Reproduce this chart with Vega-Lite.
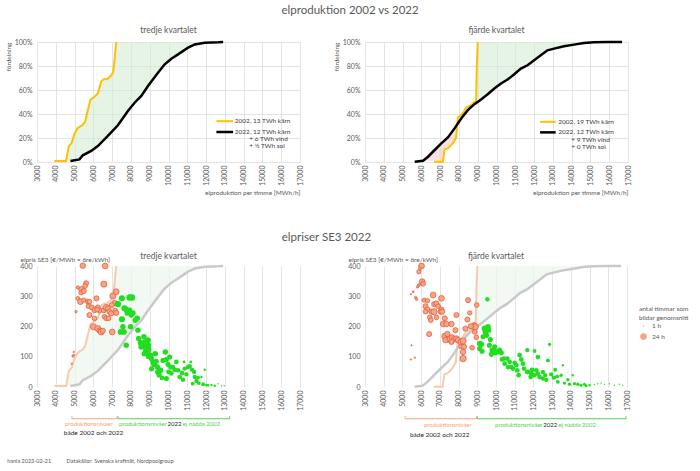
{
"$schema": "https://vega.github.io/schema/vega-lite/v6.json",
"background": "white",
"padding": {"left": 5, "top": 5, "right": 5, "bottom": 3},
"config": {
 "font": "Lato",
 "view": {"stroke": null},
 "axis": {"domain": false, "ticks": false, "labelOverlap": false, "gridColor": "#D9D9D9", "gridWidth": 0.7, "labelColor": "#595959", "labelFontSize": 7, "titleColor": "#595959", "titleFontSize": 6.5, "titleFontWeight": "normal"},
 "title": {"color": "#595959", "fontWeight": "normal", "anchor": "middle"}
},
"title": {"text": "hanla 2023-02-21\u00a0\u00a0\u00a0\u00a0\u00a0\u00a0\u00a0\u00a0\u00a0\u00a0\u00a0Datakällor: Svenska kraftnät, Nordpoolgroup", "orient": "bottom", "anchor": "start", "fontSize": 5.5, "offset": 20, "dx": 2},
"datasets": {
 "curves": [
  {"q":"Q3","yr":"2002","x":3925,"p":0.8},{"q":"Q3","yr":"2002","x":4548,"p":0.8},{"q":"Q3","yr":"2002","x":4690,"p":13},{"q":"Q3","yr":"2002","x":4851,"p":16},{"q":"Q3","yr":"2002","x":4993,"p":23.6},{"q":"Q3","yr":"2002","x":5171,"p":28.3},{"q":"Q3","yr":"2002","x":5438,"p":31},{"q":"Q3","yr":"2002","x":5562,"p":33.6},{"q":"Q3","yr":"2002","x":5705,"p":43},{"q":"Q3","yr":"2002","x":5847,"p":52},{"q":"Q3","yr":"2002","x":6060,"p":54.4},{"q":"Q3","yr":"2002","x":6238,"p":57},{"q":"Q3","yr":"2002","x":6416,"p":67},{"q":"Q3","yr":"2002","x":6559,"p":69},{"q":"Q3","yr":"2002","x":6737,"p":69},{"q":"Q3","yr":"2002","x":6950,"p":72},{"q":"Q3","yr":"2002","x":7057,"p":75},{"q":"Q3","yr":"2002","x":7128,"p":85},{"q":"Q3","yr":"2002","x":7217,"p":100},
  {"q":"Q3","yr":"2022","x":4779,"p":0.8},{"q":"Q3","yr":"2022","x":5260,"p":2.2},{"q":"Q3","yr":"2022","x":5438,"p":5.6},{"q":"Q3","yr":"2022","x":5883,"p":9.2},{"q":"Q3","yr":"2022","x":6238,"p":13.3},{"q":"Q3","yr":"2022","x":6772,"p":21.7},{"q":"Q3","yr":"2022","x":7306,"p":30.6},{"q":"Q3","yr":"2022","x":7840,"p":42.5},{"q":"Q3","yr":"2022","x":8196,"p":49.4},{"q":"Q3","yr":"2022","x":8552,"p":55},{"q":"Q3","yr":"2022","x":8907,"p":63.3},{"q":"Q3","yr":"2022","x":9441,"p":74.4},{"q":"Q3","yr":"2022","x":9797,"p":81.4},{"q":"Q3","yr":"2022","x":10153,"p":86.1},{"q":"Q3","yr":"2022","x":10509,"p":89.7},{"q":"Q3","yr":"2022","x":11043,"p":95.3},{"q":"Q3","yr":"2022","x":11399,"p":98},{"q":"Q3","yr":"2022","x":11932,"p":99.4},{"q":"Q3","yr":"2022","x":12644,"p":99.7},{"q":"Q3","yr":"2022","x":12910,"p":100},
  {"q":"Q4","yr":"2002","x":6672,"p":0.3},{"q":"Q4","yr":"2002","x":7149,"p":0.3},{"q":"Q4","yr":"2002","x":7237,"p":10.5},{"q":"Q4","yr":"2002","x":7414,"p":11.4},{"q":"Q4","yr":"2002","x":7590,"p":14},{"q":"Q4","yr":"2002","x":7731,"p":17},{"q":"Q4","yr":"2002","x":7855,"p":20.5},{"q":"Q4","yr":"2002","x":7943,"p":37.5},{"q":"Q4","yr":"2002","x":8120,"p":39},{"q":"Q4","yr":"2002","x":8261,"p":42},{"q":"Q4","yr":"2002","x":8384,"p":45.4},{"q":"Q4","yr":"2002","x":8650,"p":47.4},{"q":"Q4","yr":"2002","x":8826,"p":50},{"q":"Q4","yr":"2002","x":8914,"p":51},{"q":"Q4","yr":"2002","x":8950,"p":79},{"q":"Q4","yr":"2002","x":9003,"p":100},
  {"q":"Q4","yr":"2022","x":5648,"p":0.3},{"q":"Q4","yr":"2022","x":6090,"p":1.1},{"q":"Q4","yr":"2022","x":6354,"p":4.4},{"q":"Q4","yr":"2022","x":6708,"p":10},{"q":"Q4","yr":"2022","x":7061,"p":15.5},{"q":"Q4","yr":"2022","x":7414,"p":20.5},{"q":"Q4","yr":"2022","x":7767,"p":28},{"q":"Q4","yr":"2022","x":8120,"p":36.3},{"q":"Q4","yr":"2022","x":8473,"p":43.2},{"q":"Q4","yr":"2022","x":8826,"p":48.2},{"q":"Q4","yr":"2022","x":9179,"p":52.1},{"q":"Q4","yr":"2022","x":9532,"p":56.5},{"q":"Q4","yr":"2022","x":9886,"p":61.2},{"q":"Q4","yr":"2022","x":10239,"p":65.4},{"q":"Q4","yr":"2022","x":10592,"p":68.7},{"q":"Q4","yr":"2022","x":10945,"p":73.1},{"q":"Q4","yr":"2022","x":11298,"p":77.8},{"q":"Q4","yr":"2022","x":11651,"p":80.6},{"q":"Q4","yr":"2022","x":12004,"p":84.8},{"q":"Q4","yr":"2022","x":12357,"p":88.9},{"q":"Q4","yr":"2022","x":12711,"p":93.1},{"q":"Q4","yr":"2022","x":13064,"p":94.5},{"q":"Q4","yr":"2022","x":13594,"p":96.4},{"q":"Q4","yr":"2022","x":14123,"p":97.8},{"q":"Q4","yr":"2022","x":14653,"p":99.2},{"q":"Q4","yr":"2022","x":15183,"p":99.7},{"q":"Q4","yr":"2022","x":15890,"p":100},{"q":"Q4","yr":"2022","x":16684,"p":100}
 ],
 "bands": [
  {"q":"Q3","k":"g","p":0.8,"lo":4560,"hi":4790},{"q":"Q3","k":"g","p":5,"lo":4610,"hi":5420},{"q":"Q3","k":"g","p":10,"lo":4650,"hi":5960},{"q":"Q3","k":"g","p":15,"lo":4810,"hi":6340},{"q":"Q3","k":"g","p":20,"lo":4900,"hi":6640},{"q":"Q3","k":"g","p":25,"lo":5040,"hi":6880},{"q":"Q3","k":"g","p":30,"lo":5300,"hi":7270},{"q":"Q3","k":"g","p":35,"lo":5580,"hi":7480},{"q":"Q3","k":"g","p":40,"lo":5660,"hi":7730},{"q":"Q3","k":"g","p":45,"lo":5740,"hi":7940},{"q":"Q3","k":"g","p":50,"lo":5810,"hi":8230},{"q":"Q3","k":"g","p":55,"lo":6090,"hi":8552},{"q":"Q3","k":"g","p":60,"lo":6300,"hi":8780},{"q":"Q3","k":"g","p":65,"lo":6340,"hi":9000},{"q":"Q3","k":"g","p":70,"lo":6860,"hi":9230},{"q":"Q3","k":"g","p":75,"lo":7057,"hi":9480},{"q":"Q3","k":"g","p":80,"lo":7100,"hi":9730},{"q":"Q3","k":"g","p":85,"lo":7128,"hi":10080},{"q":"Q3","k":"g","p":90,"lo":7150,"hi":10540},{"q":"Q3","k":"g","p":95,"lo":7190,"hi":11000},{"q":"Q3","k":"g","p":99,"lo":7211,"hi":11800},{"q":"Q3","k":"g","p":100,"lo":7217,"hi":12910},
  {"q":"Q4","k":"r","p":1,"lo":6090,"hi":7160},{"q":"Q4","k":"r","p":5,"lo":6400,"hi":7190},{"q":"Q4","k":"r","p":10,"lo":6700,"hi":7230},{"q":"Q4","k":"r","p":15,"lo":7050,"hi":7630},{"q":"Q4","k":"r","p":20,"lo":7380,"hi":7840},{"q":"Q4","k":"r","p":25,"lo":7630,"hi":7870},{"q":"Q4","k":"r","p":30,"lo":7810,"hi":7900},{"q":"Q4","k":"r","p":31,"lo":7880,"hi":7905},
  {"q":"Q4","k":"g","p":38,"lo":7950,"hi":8210},{"q":"Q4","k":"g","p":42,"lo":8261,"hi":8430},{"q":"Q4","k":"g","p":45,"lo":8384,"hi":8570},{"q":"Q4","k":"g","p":48,"lo":8700,"hi":8826},{"q":"Q4","k":"g","p":50,"lo":8826,"hi":8980},{"q":"Q4","k":"g","p":52,"lo":8915,"hi":9170},{"q":"Q4","k":"g","p":55,"lo":8920,"hi":9410},{"q":"Q4","k":"g","p":60,"lo":8925,"hi":9800},{"q":"Q4","k":"g","p":65,"lo":8930,"hi":10170},{"q":"Q4","k":"g","p":70,"lo":8940,"hi":10720},{"q":"Q4","k":"g","p":75,"lo":8955,"hi":11090},{"q":"Q4","k":"g","p":80,"lo":8965,"hi":11610},{"q":"Q4","k":"g","p":85,"lo":8975,"hi":12010},{"q":"Q4","k":"g","p":90,"lo":8985,"hi":12450},{"q":"Q4","k":"g","p":95,"lo":8995,"hi":13080},{"q":"Q4","k":"g","p":98,"lo":9000,"hi":14130},{"q":"Q4","k":"g","p":100,"lo":9003,"hi":15890}
 ],
 "leg": [
  {"q":"Q3","yr":"2002","x":12550,"x2":13440,"p":34},{"q":"Q3","yr":"2022","x":12550,"x2":13440,"p":25},
  {"q":"Q4","yr":"2002","x":12320,"x2":13150,"p":33.5},{"q":"Q4","yr":"2022","x":12320,"x2":13150,"p":24.7}
 ],
 "legtxt": [
  {"q":"Q3","x":13530,"p":34,"t":"2002,  13 TWh kärn"},{"q":"Q3","x":13530,"p":25,"t":"2022,  12 TWh kärn"},{"q":"Q3","x":14300,"p":19,"t":"+   6 TWh vind"},{"q":"Q3","x":14300,"p":13,"t":"+   ½ TWh sol"},
  {"q":"Q4","x":13290,"p":33.5,"t":"2002, 19 TWh kärn"},{"q":"Q4","x":13290,"p":24.7,"t":"2022, 12  TWh kärn"},{"q":"Q4","x":13980,"p":18.3,"t":"+   9  TWh vind"},{"q":"Q4","x":13980,"p":12.2,"t":"+   0 TWh sol"}
 ],
 "brk": [
  {"q":"Q3","k":"both","x":4860,"x2":7270},{"q":"Q3","k":"new","x":7310,"x2":13250},
  {"q":"Q4","k":"both","x":5140,"x2":8960},{"q":"Q4","k":"new","x":9000,"x2":16950}
 ],
 "btxt": [
  {"q":"Q3","k":"both","line":1,"x":4480,"t":"produktionsnivåer"},{"q":"Q3","k":"plain","line":2,"x":4430,"t":"både 2002 och 2022"},{"q":"Q3","k":"new","line":1,"x":7370,"t":"produktionsnivåer"},{"q":"Q3","k":"plain","line":1,"x":9950,"t":"2022"},{"q":"Q3","k":"new","line":1,"x":10750,"t":"ej nådda 2002"},
  {"q":"Q4","k":"both","line":1,"x":6150,"t":"produktionsnivåer"},{"q":"Q4","k":"plain","line":2,"x":5400,"t":"både 2002 och 2022"},{"q":"Q4","k":"new","line":1,"x":9948,"t":"produktionsnivåer"},{"q":"Q4","k":"plain","line":1,"x":12530,"t":"2022"},{"q":"Q4","k":"new","line":1,"x":13330,"t":"ej nådda 2002"}
 ],
 "pts": [
  {"q":"Q3","x":4850,"v":77,"h":1},{"q":"Q3","x":4904,"v":102,"h":2},{"q":"Q3","x":4957,"v":105,"h":2},{"q":"Q3","x":4957,"v":116,"h":1},{"q":"Q3","x":5080,"v":249,"h":3},{"q":"Q3","x":5437,"v":401,"h":16},{"q":"Q3","x":5170,"v":329,"h":6},{"q":"Q3","x":5384,"v":323,"h":18},{"q":"Q3","x":5348,"v":312,"h":12},{"q":"Q3","x":5490,"v":317,"h":14},{"q":"Q3","x":5615,"v":343,"h":14},{"q":"Q3","x":5562,"v":334,"h":12},{"q":"Q3","x":5170,"v":293,"h":8},{"q":"Q3","x":5313,"v":282,"h":18},{"q":"Q3","x":5490,"v":287,"h":10},{"q":"Q3","x":5704,"v":282,"h":12},{"q":"Q3","x":5793,"v":282,"h":12},{"q":"Q3","x":5740,"v":267,"h":12},{"q":"Q3","x":5918,"v":263,"h":14},{"q":"Q3","x":6060,"v":254,"h":14},{"q":"Q3","x":6167,"v":293,"h":14},{"q":"Q3","x":6238,"v":263,"h":14},{"q":"Q3","x":6327,"v":252,"h":12},{"q":"Q3","x":6202,"v":256,"h":12},{"q":"Q3","x":6060,"v":227,"h":12},{"q":"Q3","x":5793,"v":238,"h":14},{"q":"Q3","x":6006,"v":199,"h":20},{"q":"Q3","x":6238,"v":193,"h":20},{"q":"Q3","x":6345,"v":186,"h":16},{"q":"Q3","x":6416,"v":182,"h":20},{"q":"Q3","x":6505,"v":186,"h":14},{"q":"Q3","x":6558,"v":340,"h":20},{"q":"Q3","x":6630,"v":400,"h":18},{"q":"Q3","x":6558,"v":254,"h":14},{"q":"Q3","x":6683,"v":263,"h":20},{"q":"Q3","x":6772,"v":260,"h":14},{"q":"Q3","x":6594,"v":232,"h":12},{"q":"Q3","x":6683,"v":227,"h":12},{"q":"Q3","x":6808,"v":227,"h":12},{"q":"Q3","x":6861,"v":249,"h":14},{"q":"Q3","x":6950,"v":243,"h":14},{"q":"Q3","x":7003,"v":182,"h":18},{"q":"Q3","x":7039,"v":301,"h":20},{"q":"Q3","x":7128,"v":278,"h":14},{"q":"Q3","x":7217,"v":315,"h":18},{"q":"Q3","x":7164,"v":252,"h":14},{"q":"Q3","x":7217,"v":245,"h":14},{"q":"Q3","x":6985,"v":271,"h":14},
  {"q":"Q3","x":7306,"v":274,"h":22},{"q":"Q3","x":7520,"v":224,"h":20},{"q":"Q3","x":7520,"v":293,"h":20},{"q":"Q3","x":7750,"v":256,"h":16},{"q":"Q3","x":7662,"v":260,"h":22},{"q":"Q3","x":7804,"v":245,"h":16},{"q":"Q3","x":7573,"v":199,"h":16},{"q":"Q3","x":7448,"v":182,"h":18},{"q":"Q3","x":7626,"v":182,"h":18},{"q":"Q3","x":7750,"v":138,"h":16},{"q":"Q3","x":7928,"v":296,"h":22},{"q":"Q3","x":8053,"v":296,"h":22},{"q":"Q3","x":7982,"v":199,"h":16},{"q":"Q3","x":7928,"v":254,"h":16},{"q":"Q3","x":8017,"v":238,"h":16},{"q":"Q3","x":8106,"v":245,"h":16},{"q":"Q3","x":8337,"v":227,"h":16},{"q":"Q3","x":8373,"v":188,"h":16},{"q":"Q3","x":8230,"v":221,"h":16},{"q":"Q3","x":8409,"v":160,"h":16},{"q":"Q3","x":8516,"v":146,"h":18},{"q":"Q3","x":8587,"v":138,"h":20},{"q":"Q3","x":8551,"v":133,"h":18},{"q":"Q3","x":8694,"v":166,"h":16},{"q":"Q3","x":8729,"v":149,"h":16},{"q":"Q3","x":8818,"v":130,"h":18},{"q":"Q3","x":8907,"v":155,"h":18},{"q":"Q3","x":8943,"v":138,"h":16},{"q":"Q3","x":8872,"v":116,"h":20},{"q":"Q3","x":8943,"v":102,"h":18},{"q":"Q3","x":9049,"v":105,"h":16},{"q":"Q3","x":9085,"v":94,"h":16},{"q":"Q3","x":9174,"v":83,"h":16},{"q":"Q3","x":9298,"v":110,"h":16},{"q":"Q3","x":9227,"v":75,"h":18},{"q":"Q3","x":9405,"v":66,"h":16},{"q":"Q3","x":9440,"v":50,"h":18},{"q":"Q3","x":9583,"v":55,"h":16},{"q":"Q3","x":9707,"v":88,"h":14},{"q":"Q3","x":9832,"v":116,"h":16},{"q":"Q3","x":9885,"v":91,"h":14},{"q":"Q3","x":9974,"v":75,"h":14},{"q":"Q3","x":10063,"v":99,"h":14},{"q":"Q3","x":10117,"v":66,"h":14},{"q":"Q3","x":9885,"v":28,"h":14},{"q":"Q3","x":10241,"v":66,"h":12},{"q":"Q3","x":10330,"v":57,"h":12},{"q":"Q3","x":10419,"v":83,"h":12},{"q":"Q3","x":10508,"v":55,"h":12},{"q":"Q3","x":10597,"v":33,"h":12},{"q":"Q3","x":10721,"v":46,"h":12},{"q":"Q3","x":10828,"v":83,"h":4},{"q":"Q3","x":10863,"v":61,"h":10},{"q":"Q3","x":10952,"v":42,"h":10},{"q":"Q3","x":11041,"v":66,"h":10},{"q":"Q3","x":11130,"v":69,"h":10},{"q":"Q3","x":11183,"v":83,"h":4},{"q":"Q3","x":11255,"v":57,"h":10},{"q":"Q3","x":11361,"v":50,"h":10},{"q":"Q3","x":11397,"v":33,"h":10},{"q":"Q3","x":11486,"v":20,"h":10},{"q":"Q3","x":11610,"v":13,"h":8},{"q":"Q3","x":11753,"v":33,"h":3},{"q":"Q3","x":11842,"v":9,"h":8},{"q":"Q3","x":11930,"v":57,"h":3},{"q":"Q3","x":12019,"v":6,"h":4},{"q":"Q3","x":12108,"v":6,"h":4},{"q":"Q3","x":12286,"v":7,"h":3},{"q":"Q3","x":12464,"v":4,"h":3},{"q":"Q3","x":12642,"v":11,"h":1},{"q":"Q3","x":12820,"v":4,"h":1},{"q":"Q3","x":12962,"v":4,"h":1},{"q":"Q3","x":11575,"v":31,"h":8},{"q":"Q3","x":11290,"v":11,"h":8},{"q":"Q3","x":10774,"v":24,"h":10},{"q":"Q3","x":8780,"v":120,"h":16},{"q":"Q3","x":8860,"v":145,"h":16},{"q":"Q3","x":8700,"v":110,"h":14},{"q":"Q3","x":8960,"v":125,"h":14},{"q":"Q3","x":9100,"v":60,"h":14},{"q":"Q3","x":9350,"v":85,"h":14},{"q":"Q3","x":9500,"v":40,"h":14},{"q":"Q3","x":9650,"v":30,"h":12},{"q":"Q3","x":10000,"v":50,"h":12},{"q":"Q3","x":10150,"v":45,"h":12},
  {"q":"Q4","x":6020,"v":400,"h":18},{"q":"Q4","x":5878,"v":381,"h":10},{"q":"Q4","x":5931,"v":392,"h":4},{"q":"Q4","x":6056,"v":348,"h":18},{"q":"Q4","x":6109,"v":341,"h":12},{"q":"Q4","x":5878,"v":337,"h":4},{"q":"Q4","x":5807,"v":331,"h":3},{"q":"Q4","x":5576,"v":315,"h":2},{"q":"Q4","x":5700,"v":296,"h":3},{"q":"Q4","x":5754,"v":290,"h":3},{"q":"Q4","x":6162,"v":287,"h":10},{"q":"Q4","x":6340,"v":285,"h":10},{"q":"Q4","x":6642,"v":304,"h":18},{"q":"Q4","x":6695,"v":274,"h":14},{"q":"Q4","x":6820,"v":276,"h":14},{"q":"Q4","x":7086,"v":293,"h":18},{"q":"Q4","x":6909,"v":267,"h":12},{"q":"Q4","x":7086,"v":256,"h":14},{"q":"Q4","x":7050,"v":249,"h":14},{"q":"Q4","x":6233,"v":267,"h":14},{"q":"Q4","x":6340,"v":256,"h":14},{"q":"Q4","x":6233,"v":249,"h":12},{"q":"Q4","x":6553,"v":249,"h":14},{"q":"Q4","x":6695,"v":249,"h":20},{"q":"Q4","x":6464,"v":230,"h":12},{"q":"Q4","x":6517,"v":221,"h":12},{"q":"Q4","x":6820,"v":230,"h":12},{"q":"Q4","x":7121,"v":249,"h":14},{"q":"Q4","x":7263,"v":227,"h":14},{"q":"Q4","x":7174,"v":208,"h":16},{"q":"Q4","x":7352,"v":208,"h":16},{"q":"Q4","x":7619,"v":208,"h":16},{"q":"Q4","x":7885,"v":238,"h":14},{"q":"Q4","x":7832,"v":188,"h":14},{"q":"Q4","x":7263,"v":168,"h":20},{"q":"Q4","x":7405,"v":175,"h":16},{"q":"Q4","x":7441,"v":157,"h":16},{"q":"Q4","x":7299,"v":155,"h":16},{"q":"Q4","x":7530,"v":160,"h":16},{"q":"Q4","x":7654,"v":164,"h":16},{"q":"Q4","x":7761,"v":157,"h":16},{"q":"Q4","x":7885,"v":160,"h":16},{"q":"Q4","x":7619,"v":149,"h":14},{"q":"Q4","x":7974,"v":155,"h":16},{"q":"Q4","x":8152,"v":135,"h":16},{"q":"Q4","x":8117,"v":149,"h":16},{"q":"Q4","x":8241,"v":152,"h":20},{"q":"Q4","x":8294,"v":133,"h":14},{"q":"Q4","x":8241,"v":116,"h":16},{"q":"Q4","x":8241,"v":94,"h":22},{"q":"Q4","x":8366,"v":193,"h":14},{"q":"Q4","x":8472,"v":223,"h":14},{"q":"Q4","x":8508,"v":287,"h":14},{"q":"Q4","x":8597,"v":245,"h":10},{"q":"Q4","x":8774,"v":199,"h":14},{"q":"Q4","x":8827,"v":204,"h":16},{"q":"Q4","x":8898,"v":199,"h":20},{"q":"Q4","x":8863,"v":182,"h":12},{"q":"Q4","x":8650,"v":201,"h":14},{"q":"Q4","x":8721,"v":130,"h":12},{"q":"Q4","x":8969,"v":271,"h":12},{"q":"Q4","x":8951,"v":164,"h":12},{"q":"Q4","x":6428,"v":175,"h":14},{"q":"Q4","x":5452,"v":307,"h":1},{"q":"Q4","x":5487,"v":138,"h":1},{"q":"Q4","x":5452,"v":91,"h":1},{"q":"Q4","x":5665,"v":97,"h":1},
  {"q":"Q4","x":9538,"v":290,"h":10},{"q":"Q4","x":9396,"v":193,"h":20},{"q":"Q4","x":9432,"v":182,"h":16},{"q":"Q4","x":9574,"v":199,"h":16},{"q":"Q4","x":9609,"v":188,"h":16},{"q":"Q4","x":9485,"v":171,"h":16},{"q":"Q4","x":9307,"v":166,"h":14},{"q":"Q4","x":9698,"v":157,"h":14},{"q":"Q4","x":9129,"v":144,"h":16},{"q":"Q4","x":9218,"v":141,"h":16},{"q":"Q4","x":9645,"v":138,"h":14},{"q":"Q4","x":9929,"v":133,"h":14},{"q":"Q4","x":9787,"v":122,"h":14},{"q":"Q4","x":9893,"v":124,"h":14},{"q":"Q4","x":9964,"v":113,"h":14},{"q":"Q4","x":10071,"v":116,"h":14},{"q":"Q4","x":10195,"v":122,"h":14},{"q":"Q4","x":10284,"v":113,"h":14},{"q":"Q4","x":9751,"v":108,"h":14},{"q":"Q4","x":9254,"v":118,"h":14},{"q":"Q4","x":9129,"v":127,"h":14},{"q":"Q4","x":10426,"v":94,"h":12},{"q":"Q4","x":10604,"v":94,"h":12},{"q":"Q4","x":10728,"v":83,"h":12},{"q":"Q4","x":10817,"v":66,"h":12},{"q":"Q4","x":10906,"v":61,"h":12},{"q":"Q4","x":10995,"v":80,"h":12},{"q":"Q4","x":11084,"v":72,"h":12},{"q":"Q4","x":11262,"v":105,"h":12},{"q":"Q4","x":11351,"v":91,"h":12},{"q":"Q4","x":11440,"v":77,"h":12},{"q":"Q4","x":11671,"v":122,"h":10},{"q":"Q4","x":11493,"v":61,"h":12},{"q":"Q4","x":11706,"v":50,"h":12},{"q":"Q4","x":11884,"v":44,"h":12},{"q":"Q4","x":12062,"v":119,"h":8},{"q":"Q4","x":12240,"v":99,"h":12},{"q":"Q4","x":12151,"v":55,"h":12},{"q":"Q4","x":12240,"v":44,"h":12},{"q":"Q4","x":12329,"v":33,"h":12},{"q":"Q4","x":12506,"v":50,"h":10},{"q":"Q4","x":12631,"v":39,"h":10},{"q":"Q4","x":12772,"v":88,"h":8},{"q":"Q4","x":12861,"v":141,"h":6},{"q":"Q4","x":12950,"v":42,"h":10},{"q":"Q4","x":13091,"v":31,"h":10},{"q":"Q4","x":13162,"v":57,"h":8},{"q":"Q4","x":13304,"v":17,"h":8},{"q":"Q4","x":13482,"v":39,"h":6},{"q":"Q4","x":13571,"v":72,"h":3},{"q":"Q4","x":13660,"v":13,"h":6},{"q":"Q4","x":13837,"v":24,"h":6},{"q":"Q4","x":13925,"v":9,"h":6},{"q":"Q4","x":14103,"v":39,"h":3},{"q":"Q4","x":14192,"v":11,"h":6},{"q":"Q4","x":14370,"v":9,"h":6},{"q":"Q4","x":14547,"v":6,"h":5},{"q":"Q4","x":14725,"v":9,"h":5},{"q":"Q4","x":14814,"v":4,"h":5},{"q":"Q4","x":14991,"v":6,"h":3},{"q":"Q4","x":15258,"v":8,"h":1},{"q":"Q4","x":15436,"v":11,"h":1},{"q":"Q4","x":15613,"v":13,"h":1},{"q":"Q4","x":15791,"v":9,"h":1},{"q":"Q4","x":16058,"v":11,"h":1},{"q":"Q4","x":16324,"v":6,"h":1},{"q":"Q4","x":16590,"v":9,"h":1},{"q":"Q4","x":16768,"v":6,"h":1},{"q":"Q4","x":11671,"v":50,"h":12},{"q":"Q4","x":11928,"v":57,"h":12},{"q":"Q4","x":12028,"v":39,"h":12},{"q":"Q4","x":11849,"v":33,"h":12},{"q":"Q4","x":10639,"v":66,"h":12},{"q":"Q4","x":10462,"v":77,"h":12},{"q":"Q4","x":10320,"v":91,"h":12},{"q":"Q4","x":11137,"v":55,"h":12},{"q":"Q4","x":11209,"v":39,"h":12},{"q":"Q4","x":12506,"v":28,"h":10},{"q":"Q4","x":12684,"v":24,"h":10},{"q":"Q4","x":13268,"v":35,"h":8}
 ]
},
"spacing": 36,
"resolve": {"scale": {"size": "independent", "color": "independent"}, "legend": {"size": "independent", "color": "independent"}},
"vconcat": [
 {
  "title": {"text": "elproduktion 2002 vs 2022", "fontSize": 11.5, "offset": 9, "dx": 32},
  "bounds": "flush",
  "spacing": 65,
  "hconcat": [
   {
    "width": 263, "height": 120,
    "title": {"text": "tredje kvartalet", "fontSize": 8.5, "offset": 3, "frame": "group"},
    "layer": [
     {"data": {"name": "bands"}, "transform": [{"filter": "datum.q == 'Q3' && datum.k == 'g'"}],
      "mark": {"type": "area", "orient": "horizontal", "fill": "#D3ECD3", "opacity": 0.6},
      "encoding": {
       "y": {"field": "p", "type": "quantitative", "scale": {"domain": [0, 100]}, "axis": {"values": [0,20,40,60,80,100], "tickCount": 6, "labelExpr": "datum.value + '%'", "title": "fördelning", "titleAnchor": "end", "titlePadding": 3, "labelPadding": 5}},
       "x": {"field": "lo", "type": "quantitative", "scale": {"domain": [3000, 17000]}, "axis": {"values": [3000,4000,5000,6000,7000,8000,9000,10000,11000,12000,13000,14000,15000,16000,17000], "tickCount": 15, "format": "d", "labelAngle": 270, "labelPadding": 3, "title": "elproduktion per timme [MWh/h]", "titleAnchor": "end", "titlePadding": 4}},
       "x2": {"field": "hi"}
      }},
     {"data": {"name": "curves"}, "transform": [{"filter": "datum.q == 'Q3' && datum.yr == '2002'"}],
      "mark": {"type": "line", "color": "#FFC000", "strokeWidth": 2},
      "encoding": {"x": {"field": "x", "type": "quantitative"}, "y": {"field": "p", "type": "quantitative"}}},
     {"data": {"name": "curves"}, "transform": [{"filter": "datum.q == 'Q3' && datum.yr == '2022'"}],
      "mark": {"type": "line", "color": "#000000", "strokeWidth": 2.5},
      "encoding": {"x": {"field": "x", "type": "quantitative"}, "y": {"field": "p", "type": "quantitative"}}},
     {"data": {"name": "leg"}, "transform": [{"filter": "datum.q == 'Q3' && datum.yr == '2002'"}],
      "mark": {"type": "rule", "color": "#FFC000", "strokeWidth": 2},
      "encoding": {"x": {"field": "x", "type": "quantitative"}, "x2": {"field": "x2"}, "y": {"field": "p", "type": "quantitative"}}},
     {"data": {"name": "leg"}, "transform": [{"filter": "datum.q == 'Q3' && datum.yr == '2022'"}],
      "mark": {"type": "rule", "color": "#000000", "strokeWidth": 2.5},
      "encoding": {"x": {"field": "x", "type": "quantitative"}, "x2": {"field": "x2"}, "y": {"field": "p", "type": "quantitative"}}},
     {"data": {"name": "legtxt"}, "transform": [{"filter": "datum.q == 'Q3'"}],
      "mark": {"type": "text", "align": "left", "baseline": "middle", "fontSize": 6.5, "color": "#404040"},
      "encoding": {"x": {"field": "x", "type": "quantitative"}, "y": {"field": "p", "type": "quantitative"}, "text": {"field": "t"}}}
    ]
   },
   {
    "width": 263, "height": 120,
    "title": {"text": "fjärde kvartalet", "fontSize": 8.5, "offset": 3, "frame": "group"},
    "layer": [
     {"data": {"name": "bands"}, "transform": [{"filter": "datum.q == 'Q4' && datum.k == 'g'"}],
      "mark": {"type": "area", "orient": "horizontal", "fill": "#D3ECD3", "opacity": 0.6},
      "encoding": {
       "y": {"field": "p", "type": "quantitative", "scale": {"domain": [0, 100]}, "axis": {"values": [0,20,40,60,80,100], "tickCount": 6, "labelExpr": "datum.value + '%'", "title": "fördelning", "titleAnchor": "end", "titlePadding": 3, "labelPadding": 5}},
       "x": {"field": "lo", "type": "quantitative", "scale": {"domain": [3000, 17000]}, "axis": {"values": [3000,4000,5000,6000,7000,8000,9000,10000,11000,12000,13000,14000,15000,16000,17000], "tickCount": 15, "format": "d", "labelAngle": 270, "labelPadding": 3, "title": "elproduktion per timme [MWh/h]", "titleAnchor": "end", "titlePadding": 4}},
       "x2": {"field": "hi"}
      }},
     {"data": {"name": "bands"}, "transform": [{"filter": "datum.q == 'Q4' && datum.k == 'r'"}],
      "mark": {"type": "area", "orient": "horizontal", "fill": "#F2CFCF", "opacity": 0.6},
      "encoding": {"y": {"field": "p", "type": "quantitative"}, "x": {"field": "lo", "type": "quantitative"}, "x2": {"field": "hi"}}},
     {"data": {"name": "curves"}, "transform": [{"filter": "datum.q == 'Q4' && datum.yr == '2002'"}],
      "mark": {"type": "line", "color": "#FFC000", "strokeWidth": 2},
      "encoding": {"x": {"field": "x", "type": "quantitative"}, "y": {"field": "p", "type": "quantitative"}}},
     {"data": {"name": "curves"}, "transform": [{"filter": "datum.q == 'Q4' && datum.yr == '2022'"}],
      "mark": {"type": "line", "color": "#000000", "strokeWidth": 2.5},
      "encoding": {"x": {"field": "x", "type": "quantitative"}, "y": {"field": "p", "type": "quantitative"}}},
     {"data": {"name": "leg"}, "transform": [{"filter": "datum.q == 'Q4' && datum.yr == '2002'"}],
      "mark": {"type": "rule", "color": "#FFC000", "strokeWidth": 2},
      "encoding": {"x": {"field": "x", "type": "quantitative"}, "x2": {"field": "x2"}, "y": {"field": "p", "type": "quantitative"}}},
     {"data": {"name": "leg"}, "transform": [{"filter": "datum.q == 'Q4' && datum.yr == '2022'"}],
      "mark": {"type": "rule", "color": "#000000", "strokeWidth": 2.5},
      "encoding": {"x": {"field": "x", "type": "quantitative"}, "x2": {"field": "x2"}, "y": {"field": "p", "type": "quantitative"}}},
     {"data": {"name": "legtxt"}, "transform": [{"filter": "datum.q == 'Q4'"}],
      "mark": {"type": "text", "align": "left", "baseline": "middle", "fontSize": 6.5, "color": "#404040"},
      "encoding": {"x": {"field": "x", "type": "quantitative"}, "y": {"field": "p", "type": "quantitative"}, "text": {"field": "t"}}}
    ]
   }
  ]
 },
 {
  "title": {"text": "elpriser SE3 2022", "fontSize": 11.5, "offset": 8, "dx": -28},
  "bounds": "flush",
  "spacing": 65,
  "resolve": {"scale": {"size": "independent", "color": "independent"}, "legend": {"size": "independent", "color": "independent"}},
  "hconcat": [
   {
    "width": 263, "height": 121,
    "title": {"text": "tredje kvartalet", "fontSize": 8.5, "offset": -4, "frame": "group"},
    "resolve": {"scale": {"y": "independent"}},
    "layer": [
     {"layer": [
      {"data": {"name": "bands"}, "transform": [{"filter": "datum.q == 'Q3' && datum.k == 'g'"}],
       "mark": {"type": "area", "orient": "horizontal", "fill": "#EDF6ED", "opacity": 0.7},
       "encoding": {
        "y": {"field": "p", "type": "quantitative", "scale": {"domain": [0, 100]}, "axis": null},
        "x": {"field": "lo", "type": "quantitative", "scale": {"domain": [3000, 17000]}, "axis": {"values": [3000,4000,5000,6000,7000,8000,9000,10000,11000,12000,13000,14000,15000,16000,17000], "tickCount": 15, "format": "d", "labelAngle": 270, "labelPadding": 3, "title": null}},
        "x2": {"field": "hi"}
       }},
      {"data": {"name": "curves"}, "transform": [{"filter": "datum.q == 'Q3' && datum.yr == '2002'"}],
       "mark": {"type": "line", "color": "#F8CBAD", "strokeWidth": 2},
       "encoding": {"x": {"field": "x", "type": "quantitative"}, "y": {"field": "p", "type": "quantitative", "axis": null}}},
      {"data": {"name": "curves"}, "transform": [{"filter": "datum.q == 'Q3' && datum.yr == '2022'"}],
       "mark": {"type": "line", "color": "#C9C9C9", "strokeWidth": 2.5},
       "encoding": {"x": {"field": "x", "type": "quantitative"}, "y": {"field": "p", "type": "quantitative", "axis": null}}}
     ]},
     {"layer": [
      {"data": {"name": "pts"}, "transform": [{"filter": "datum.q == 'Q3' && datum.x <= 7290"}],
       "mark": {"type": "circle", "fill": "#F4A582", "stroke": "#E2553A", "strokeWidth": 0.7, "opacity": 1},
       "encoding": {
        "x": {"field": "x", "type": "quantitative"},
        "y": {"field": "v", "type": "quantitative", "scale": {"domain": [0, 400]}, "axis": {"orient": "left", "values": [0,50,100,150,200,250,300,350,400], "tickCount": 8, "labelPadding": 5, "title": "elpris SE3 [€/MWh = öre/kWh]", "titleAngle": 0, "titleAlign": "left", "titleBaseline": "bottom", "titleX": -17, "titleY": -4}},
        "size": {"field": "h", "type": "quantitative", "scale": {"domain": [1, 24], "range": [2, 45]}, "legend": null}
       }},
      {"data": {"name": "pts"}, "transform": [{"filter": "datum.q == 'Q3' && datum.x > 7290"}],
       "mark": {"type": "circle", "color": "#22DD22", "opacity": 1},
       "encoding": {
        "x": {"field": "x", "type": "quantitative"},
        "y": {"field": "v", "type": "quantitative"},
        "size": {"field": "h", "type": "quantitative", "scale": {"domain": [1, 24], "range": [2, 45]}, "legend": null}
       }},
      {"data": {"name": "brk"}, "transform": [{"filter": "datum.q == 'Q3'"}],
       "mark": {"type": "rule", "strokeWidth": 1},
       "encoding": {"x": {"field": "x", "type": "quantitative"}, "x2": {"field": "x2"}, "y": {"datum": -105},
        "color": {"field": "k", "type": "nominal", "scale": {"domain": ["both", "new", "plain"], "range": ["#F4A47C", "#5ACB5A", "#262626"]}, "legend": null}}},
      {"data": {"name": "brk"}, "transform": [{"filter": "datum.q == 'Q3'"}],
       "mark": {"type": "rule", "strokeWidth": 1},
       "encoding": {"x": {"field": "x2", "type": "quantitative"}, "y": {"datum": -105}, "y2": {"datum": -97},
        "color": {"field": "k", "type": "nominal", "legend": null}}},
      {"data": {"name": "brk"}, "transform": [{"filter": "datum.q == 'Q3'"}],
       "mark": {"type": "rule", "strokeWidth": 1},
       "encoding": {"x": {"field": "x", "type": "quantitative"}, "y": {"datum": -105}, "y2": {"datum": -97},
        "color": {"field": "k", "type": "nominal", "legend": null}}},
      {"data": {"name": "btxt"}, "transform": [{"filter": "datum.q == 'Q3' && datum.line == 1"}],
       "mark": {"type": "text", "align": "left", "baseline": "middle", "fontSize": 6},
       "encoding": {"x": {"field": "x", "type": "quantitative"}, "y": {"datum": -123}, "text": {"field": "t"},
        "color": {"field": "k", "type": "nominal", "legend": null}}},
      {"data": {"name": "btxt"}, "transform": [{"filter": "datum.q == 'Q3' && datum.line == 2"}],
       "mark": {"type": "text", "align": "left", "baseline": "middle", "fontSize": 6.5},
       "encoding": {"x": {"field": "x", "type": "quantitative"}, "y": {"datum": -153}, "text": {"field": "t"},
        "color": {"field": "k", "type": "nominal", "legend": null}}}
     ]}
    ]
   },
   {
    "width": 262, "height": 121,
    "title": {"text": "fjärde kvartalet", "fontSize": 8.5, "offset": -4, "frame": "group"},
    "resolve": {"scale": {"y": "independent"}},
    "layer": [
     {"layer": [
      {"data": {"name": "bands"}, "transform": [{"filter": "datum.q == 'Q4' && datum.k == 'g'"}],
       "mark": {"type": "area", "orient": "horizontal", "fill": "#EDF6ED", "opacity": 0.7},
       "encoding": {
        "y": {"field": "p", "type": "quantitative", "scale": {"domain": [0, 100]}, "axis": null},
        "x": {"field": "lo", "type": "quantitative", "scale": {"domain": [3000, 17000]}, "axis": {"values": [3000,4000,5000,6000,7000,8000,9000,10000,11000,12000,13000,14000,15000,16000,17000], "tickCount": 15, "format": "d", "labelAngle": 270, "labelPadding": 3, "title": null}},
        "x2": {"field": "hi"}
       }},
      {"data": {"name": "curves"}, "transform": [{"filter": "datum.q == 'Q4' && datum.yr == '2002'"}],
       "mark": {"type": "line", "color": "#F8CBAD", "strokeWidth": 2},
       "encoding": {"x": {"field": "x", "type": "quantitative"}, "y": {"field": "p", "type": "quantitative", "axis": null}}},
      {"data": {"name": "curves"}, "transform": [{"filter": "datum.q == 'Q4' && datum.yr == '2022'"}],
       "mark": {"type": "line", "color": "#C9C9C9", "strokeWidth": 2.5},
       "encoding": {"x": {"field": "x", "type": "quantitative"}, "y": {"field": "p", "type": "quantitative", "axis": null}}}
     ]},
     {"layer": [
      {"data": {"name": "pts"}, "transform": [{"filter": "datum.q == 'Q4' && datum.x <= 9000"}],
       "mark": {"type": "circle", "fill": "#F4A582", "stroke": "#E2553A", "strokeWidth": 0.7, "opacity": 1},
       "encoding": {
        "x": {"field": "x", "type": "quantitative"},
        "y": {"field": "v", "type": "quantitative", "scale": {"domain": [0, 400]}, "axis": {"orient": "left", "values": [0,50,100,150,200,250,300,350,400], "tickCount": 8, "labelPadding": 5, "title": "elpris SE3 [€/MWh = öre/kWh]", "titleAngle": 0, "titleAlign": "left", "titleBaseline": "bottom", "titleX": -17, "titleY": -4}},
        "size": {"field": "h", "type": "quantitative", "scale": {"domain": [1, 24], "range": [2, 45]},
         "legend": {"title": ["antal timmar som", "bildar genomsnitt"], "values": [1, 24], "labelExpr": "datum.value + ' h'", "orient": "none", "legendX": 274, "legendY": 40, "titleFontSize": 6.5, "titleFontWeight": "normal", "titleColor": "#595959", "titlePadding": 2, "labelFontSize": 6.5, "labelColor": "#595959", "symbolFillColor": "#F4A582", "symbolStrokeColor": "#E2553A", "symbolType": "circle", "rowPadding": 0}}
       }},
      {"data": {"name": "pts"}, "transform": [{"filter": "datum.q == 'Q4' && datum.x > 9000"}],
       "mark": {"type": "circle", "color": "#22DD22", "opacity": 1},
       "encoding": {
        "x": {"field": "x", "type": "quantitative"},
        "y": {"field": "v", "type": "quantitative"},
        "size": {"field": "h", "type": "quantitative", "scale": {"domain": [1, 24], "range": [2, 45]}}
       }},
      {"data": {"name": "brk"}, "transform": [{"filter": "datum.q == 'Q4'"}],
       "mark": {"type": "rule", "strokeWidth": 1},
       "encoding": {"x": {"field": "x", "type": "quantitative"}, "x2": {"field": "x2"}, "y": {"datum": -105},
        "color": {"field": "k", "type": "nominal", "scale": {"domain": ["both", "new", "plain"], "range": ["#F4A47C", "#5ACB5A", "#262626"]}, "legend": null}}},
      {"data": {"name": "brk"}, "transform": [{"filter": "datum.q == 'Q4'"}],
       "mark": {"type": "rule", "strokeWidth": 1},
       "encoding": {"x": {"field": "x2", "type": "quantitative"}, "y": {"datum": -105}, "y2": {"datum": -97},
        "color": {"field": "k", "type": "nominal", "legend": null}}},
      {"data": {"name": "brk"}, "transform": [{"filter": "datum.q == 'Q4'"}],
       "mark": {"type": "rule", "strokeWidth": 1},
       "encoding": {"x": {"field": "x", "type": "quantitative"}, "y": {"datum": -105}, "y2": {"datum": -97},
        "color": {"field": "k", "type": "nominal", "legend": null}}},
      {"data": {"name": "btxt"}, "transform": [{"filter": "datum.q == 'Q4' && datum.line == 1"}],
       "mark": {"type": "text", "align": "left", "baseline": "middle", "fontSize": 6},
       "encoding": {"x": {"field": "x", "type": "quantitative"}, "y": {"datum": -125}, "text": {"field": "t"},
        "color": {"field": "k", "type": "nominal", "legend": null}}},
      {"data": {"name": "btxt"}, "transform": [{"filter": "datum.q == 'Q4' && datum.line == 2"}],
       "mark": {"type": "text", "align": "left", "baseline": "middle", "fontSize": 6.5},
       "encoding": {"x": {"field": "x", "type": "quantitative"}, "y": {"datum": -160}, "text": {"field": "t"},
        "color": {"field": "k", "type": "nominal", "legend": null}}}
     ]}
    ]
   }
  ]
 }
]
}
